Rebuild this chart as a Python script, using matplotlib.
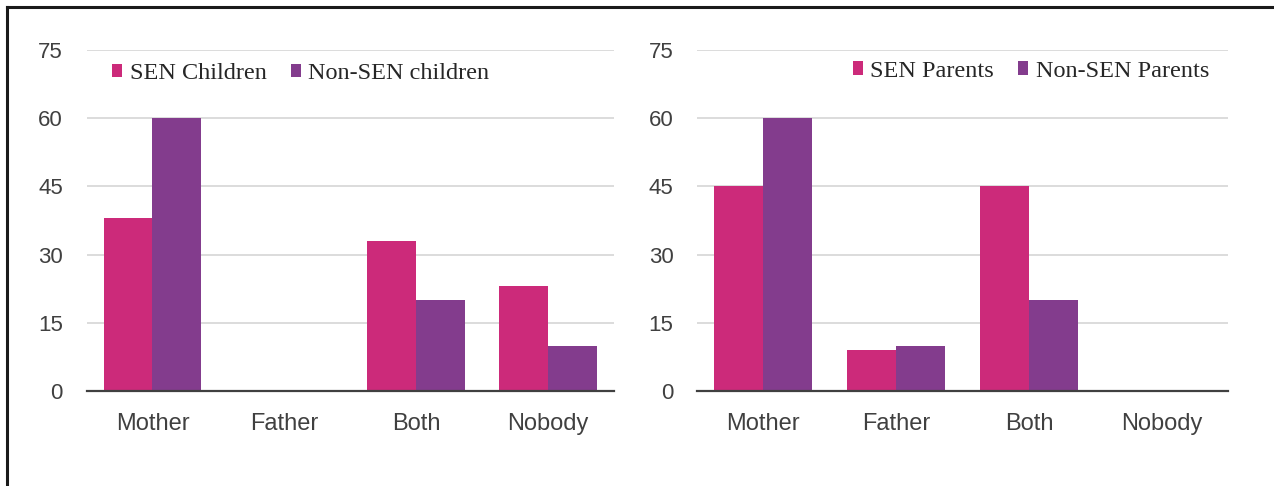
import matplotlib
matplotlib.use("Agg")
import numpy as np
import matplotlib.pyplot as plt
from matplotlib.patches import Patch
from matplotlib.lines import Line2D

# ---------------------

categories = ["Mother", "Father", "Both", "Nobody"]

sen_children = [38, 0, 33, 23]
non_sen_children = [60, 0, 20, 10]

sen_parents = [45, 9, 45, 0]
non_sen_parents = [60, 10, 20, 0]

y_ticks = [0, 15, 30, 45, 60, 75]

pink = "#CC2A7A"
purple = "#833C8D"
tick_font = ["Liberation Sans Narrow", "Liberation Sans", "DejaVu Sans"]
legend_font = ["Liberation Serif", "DejaVu Serif"]

# ---------------------

def draw_panel(ax, first, second, labels, legend_anchor):
    x = np.arange(len(categories))
    w = 0.37
    ax.bar(x - w / 2, first, w, color=pink, zorder=3)
    ax.bar(x + w / 2, second, w, color=purple, zorder=3)

    ax.set_xlim(-0.5, len(categories) - 0.5)
    ax.set_ylim(0, 75)
    ax.set_yticks(y_ticks)
    ax.set_xticks(x)
    ax.set_xticklabels(categories)
    ax.yaxis.grid(True, color="#D9D9D9", linewidth=1.3, zorder=0)
    ax.set_axisbelow(True)

    for side in ["top", "right", "left"]:
        ax.spines[side].set_visible(False)
    ax.spines["bottom"].set_color("#404040")
    ax.spines["bottom"].set_linewidth(1.6)
    ax.spines["bottom"].set_zorder(4)

    ax.tick_params(axis="both", length=0, colors="#404040")
    ax.tick_params(axis="y", pad=17, labelsize=16)
    ax.tick_params(axis="x", pad=16, labelsize=17)
    for lbl in ax.get_xticklabels() + ax.get_yticklabels():
        lbl.set_family(tick_font)

    handles = [Patch(facecolor=pink), Patch(facecolor=purple)]
    leg = ax.legend(handles, labels, loc="center left", bbox_to_anchor=legend_anchor,
                    ncol=2, frameon=False, handlelength=0.42, handleheight=0.45,
                    handletextpad=0.3, columnspacing=1.0, borderaxespad=0,
                    prop={"family": legend_font, "size": 17.5})
    for t in leg.get_texts():
        t.set_color("#262626")


fig = plt.figure(figsize=(12.74, 4.86), dpi=100)

ax1 = fig.add_axes([0.0679, 0.1955, 0.4141, 0.7016])
ax2 = fig.add_axes([0.5471, 0.1955, 0.4168, 0.7016])

draw_panel(ax1, sen_children, non_sen_children,
           ["SEN Children", "Non-SEN children"], (0.030, 0.930))
draw_panel(ax2, sen_parents, non_sen_parents,
           ["SEN Parents", "Non-SEN Parents"], (0.2746, 0.938))

# frame lines along the top and left edge
fig.add_artist(Line2D([0.0055, 1.0], [0.9856, 0.9856], color="#1a1a1a", linewidth=2.2))
fig.add_artist(Line2D([0.0055, 0.0055], [0.0, 0.9856], color="#1a1a1a", linewidth=2.2))

fig.savefig("out.png", dpi=100)
